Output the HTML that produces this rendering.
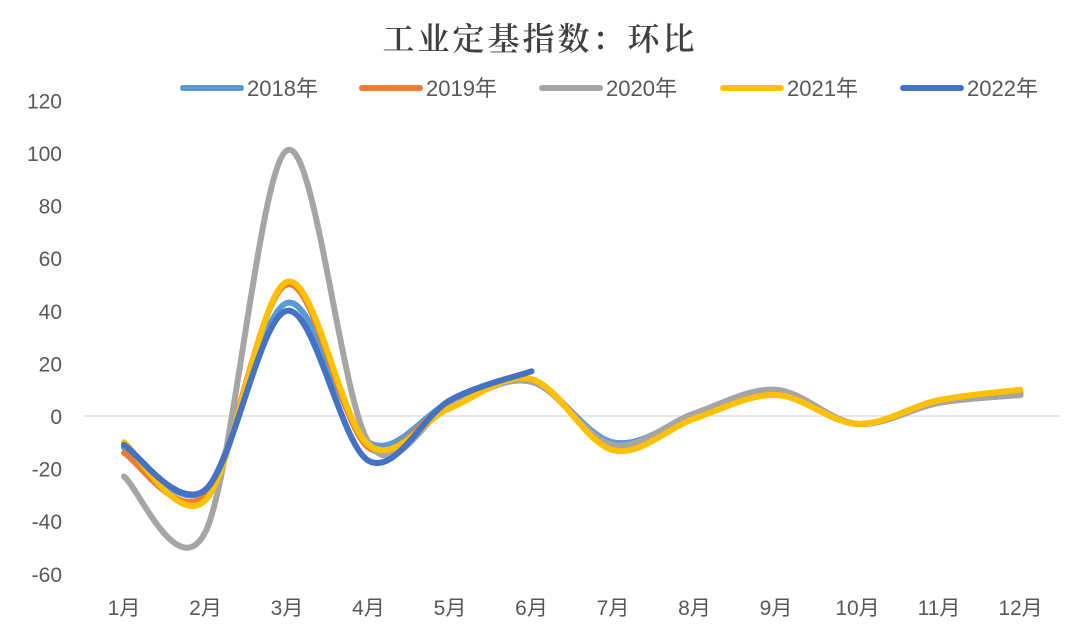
<!DOCTYPE html>
<html><head><meta charset="utf-8">
<style>
html,body{margin:0;padding:0;background:#fff;}
svg{display:block;}
text{font-family:"Liberation Sans","Noto Sans CJK SC",sans-serif;fill:#595959;}
</style></head>
<body>
<svg id="chart" width="1080" height="629" viewBox="0 0 1080 629" xmlns="http://www.w3.org/2000/svg">
<text x="540" y="50" text-anchor="middle" font-size="32" style="font-family:'Noto Serif CJK SC','Liberation Serif',serif;fill:#404040;letter-spacing:3px;font-weight:600">工业定基指数：环比</text>
<g id="legend"></g>
<g id="yaxis"></g>
<g id="xaxis"></g>
<g id="series"></g>
</svg>
<script>
const categories=["1月","2月","3月","4月","5月","6月","7月","8月","9月","10月","11月","12月"];
const yTicks=[120,100,80,60,40,20,0,-20,-40,-60];
const seriesNames=["2018年","2019年","2020年","2021年","2022年"];
const s2018=[-12,-28,43,-10,5,13,-10,0,9,-3,5,8];
const s2019=[-14,-30,50,-12,5,14,-12,0,9,-3,6,9];
const s2020=[-23,-44,101,-10,4,13,-11,1,10,-3,5,8];
const s2021=[-10,-32,51,-11,3,14,-13,-1,8,-3,6,10];
const s2022=[-11,-28,40,-17,6,17];
const seriesData=[s2018,s2019,s2020,s2021,s2022];
const colors=["#5B9BD5","#ED7D31","#A5A5A5","#FFC000","#4472C4"];

const NS="http://www.w3.org/2000/svg";
function yScale(v){return 416-(v/20)*52.6;}
function xScale(i){return 124+i*81.5;}
function mk(tag,attrs,parent){const e=document.createElementNS(NS,tag);for(const k in attrs)e.setAttribute(k,attrs[k]);parent.appendChild(e);return e;}

const yg=document.getElementById('yaxis');
yTicks.forEach(t=>{
  const tx=mk('text',{x:62,y:yScale(t)+8,'text-anchor':'end','font-size':21},yg);
  
  
  tx.textContent=t;
});
const zl=mk('line',{x1:85,x2:1060,y1:yScale(0),y2:yScale(0),stroke:'#D9D9D9','stroke-width':1.3},yg);



const xg=document.getElementById('xaxis');
categories.forEach((c,i)=>{
  const tx=mk('text',{x:xScale(i),y:615,'text-anchor':'middle','font-size':21},xg);
  
  
  tx.textContent=c;
});

function smoothPath(vals){
  const p=vals.map((v,i)=>[xScale(i),yScale(v)]);
  let d=`M${p[0][0]},${p[0][1]}`;
  for(let i=0;i<p.length-1;i++){
    const p0=p[i-1]||p[i],p1=p[i],p2=p[i+1],p3=p[i+2]||p[i+1];
    const c1=[p1[0]+(p2[0]-p0[0])/6,p1[1]+(p2[1]-p0[1])/6];
    const c2=[p2[0]-(p3[0]-p1[0])/6,p2[1]-(p3[1]-p1[1])/6];
    d+=` C${c1[0]},${c1[1]} ${c2[0]},${c2[1]} ${p2[0]},${p2[1]}`;
  }
  return d;
}
const sg=document.getElementById('series');
seriesData.forEach((vals,k)=>{
  const path=mk('path',{d:smoothPath(vals),fill:'none',stroke:colors[k],'stroke-width':6,'stroke-linecap':'round','stroke-linejoin':'round'},sg);
  
  
});

const lg=document.getElementById('legend');
const lx=[183,362,542,723,903];
seriesNames.forEach((n,k)=>{
  const ln=mk('line',{x1:lx[k],x2:lx[k]+58,y1:88,y2:88,stroke:colors[k],'stroke-width':6,'stroke-linecap':'round'},lg);
  
  
  const tx=mk('text',{x:lx[k]+64,y:96,'font-size':22},lg);
  
  
  tx.textContent=n;
});
</script>
</body></html>
